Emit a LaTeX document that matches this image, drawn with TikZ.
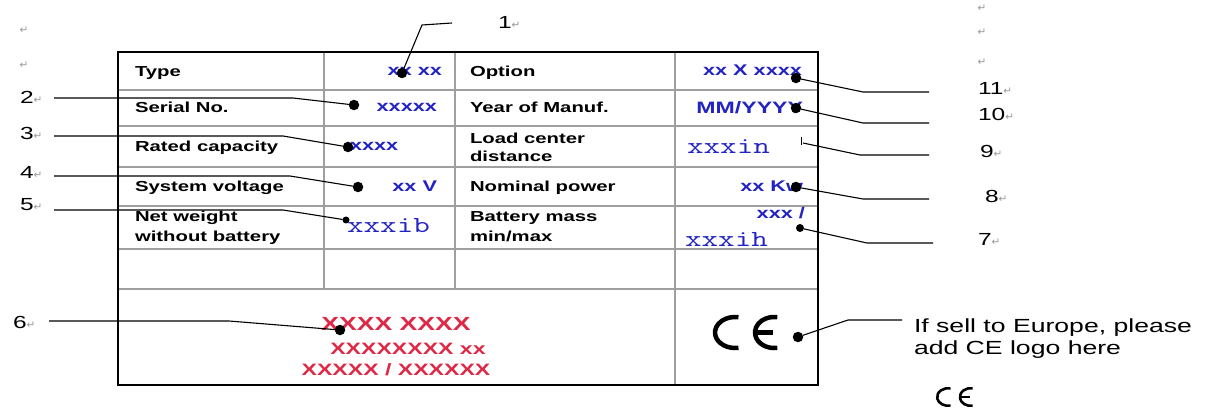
\documentclass[tikz,border=0pt]{standalone}
\usepackage{fontspec}
\setmainfont{Liberation Sans}
\newfontfamily\platefont[FakeStretch=1.4]{Liberation Sans}
\newfontfamily\platemono[FakeStretch=1.4]{Latin Modern Mono}
\newfontfamily\markfont{DejaVu Sans}
\definecolor{valblue}{RGB}{35,35,195}
\definecolor{valred}{RGB}{222,40,70}
\newcommand\pmark{{\markfont\fontsize{10.5}{10.5}\selectfont\color{gray!80}↵}}
\tikzset{cemark/.pic={
  \draw (-10.5,0) ++(80:20 and 15.5) arc[start angle=80,end angle=280,x radius=20,y radius=15.5];
  \draw (28.5,0) ++(80:19 and 15.5) arc[start angle=80,end angle=280,x radius=19,y radius=15.5];
  \draw (11.5,0) -- (27,0);
}}
\begin{document}
\begin{tikzpicture}[x=1pt,y=-1pt,
  every node/.style={inner sep=0pt,outer sep=0pt},
  platelbl/.style={font=\platefont\bfseries\fontsize{14.5}{17}\selectfont,anchor=base west},
  plateval/.style={font=\platefont\bfseries\fontsize{15.5}{18}\selectfont,text=valblue},
  monoval/.style={font=\platemono\fontsize{23}{26}\selectfont,text=valblue,anchor=base west},
  redval/.style={font=\platefont\bfseries\fontsize{16.5}{20}\selectfont,text=valred,anchor=base},
  numlbl/.style={font=\platefont\fontsize{17.5}{20}\selectfont,anchor=west},
  cetext/.style={font=\platefont\fontsize{19}{23}\selectfont,anchor=base west},
  leader/.style={line width=1.1pt},
  pindot/.style={circle,fill=black,minimum size=10.5pt},
  cellrule/.style={gray!75,line width=1.1pt}]
\path[fill=white,use as bounding box] (0,0) rectangle (1208,414);
% table grid
\foreach \y in {90,126,167,206,249,289}
  \draw[cellrule] (118,\y) -- (818,\y);
\foreach \x in {324,455}
  \draw[cellrule] (\x,52) -- (\x,289);
\draw[cellrule] (675,52) -- (675,385);
\draw[line width=2.5pt] (118,52) rectangle (818,385);
% field names
\node[platelbl] (type) at (135,77) {Type};
\node[platelbl] (serial) at (135,113) {Serial No.};
\node[platelbl] (rated) at (135,152) {Rated capacity};
\node[platelbl] (volt) at (135,192) {System voltage};
\node[platelbl] (net1) at (135,222) {Net weight};
\node[platelbl] (net2) at (135,242) {without battery};
\node[platelbl] (option) at (470,77) {Option};
\node[platelbl] (year) at (470,113) {Year of Manuf.};
\node[platelbl] (load1) at (470,144) {Load center};
\node[platelbl] (load2) at (470,162) {distance};
\node[platelbl] (power) at (470,192) {Nominal power};
\node[platelbl] (batt1) at (470,222) {Battery mass};
\node[platelbl] (batt2) at (470,242) {min/max};
% values
\node[plateval,anchor=base east] (vtype) at (442,76) {xx xx};
\node[plateval,anchor=base east] (vserial) at (437,112) {xxxxx};
\node[plateval,anchor=base west] (vrated) at (350,151) {xxxx};
\node[plateval,anchor=base east] (vvolt) at (437,191.5) {xx V};
\node[monoval] (vnet) at (347,233) {xxxib};
\node[plateval,anchor=base east] (voption) at (802,76) {xx X xxxx};
\node[plateval,anchor=base east,font=\platefont\bfseries\fontsize{16.5}{19}\selectfont] (vyear) at (803,114) {MM/YYYY};
\node[monoval] (vload) at (687,154) {xxxin};
\node[plateval,anchor=base east] (vpower) at (803,192) {xx Kw};
\node[plateval,anchor=base east] (vbatt1) at (805,219) {xxx /};
\node[monoval] (vbatt2) at (685,247) {xxxih};
\node[redval,font=\platefont\bfseries\fontsize{19}{22}\selectfont] (red1) at (396,330) {XXXX XXXX};
\node[redval] (red2) at (408,354) {XXXXXXXX xx};
\node[redval] (red3) at (396,375) {XXXXX / XXXXXX};
\pic[line width=4.5pt] at (745.5,332.5) {cemark};
\pic[scale=0.57,line width=2.6pt] at (954.5,397) {cemark};
% pins
\node[pindot] (d1) at (402,73) {};
\node[pindot] (d2) at (354,105) {};
\node[pindot] (d3) at (348,147) {};
\node[pindot] (d4) at (358,187) {};
\node[pindot,minimum size=7pt] (d5) at (346,220) {};
\node[pindot] (d6) at (340,330) {};
\node[pindot] (d11) at (796,78) {};
\node[pindot] (d10) at (796,108) {};
\coordinate (d9) at (803,143);
\draw[line width=0.8pt] (801,137) -- (801,145);
\node[pindot] (d8) at (796,187) {};
\node[pindot,minimum size=8pt] (d7) at (800,228) {};
\node[pindot] (dce) at (798,337) {};
% numbers
\node[numlbl] (n1) at (498,22) {1\pmark};
\node[numlbl] (n2) at (20,97) {2\pmark};
\node[numlbl] (n3) at (20,133) {3\pmark};
\node[numlbl] (n4) at (20,172) {4\pmark};
\node[numlbl] (n5) at (20,205) {5\pmark};
\node[numlbl] (n6) at (13,322) {6\pmark};
\node[numlbl] (n11) at (978,88) {11\pmark};
\node[numlbl] (n10) at (978,114) {10\pmark};
\node[numlbl] (n9) at (980,151) {9\pmark};
\node[numlbl] (n8) at (985,196) {8\pmark};
\node[numlbl] (n7) at (978,239) {7\pmark};
\node[cetext] (ce1) at (914,332) {If sell to Europe, please};
\node[cetext] (ce2) at (914,354) {add CE logo here};
% stray paragraph marks
\node (pm1) at (24,30) {\pmark};
\node (pm2) at (24,65) {\pmark};
\node (pm3) at (982,8) {\pmark};
\node (pm4) at (982,32) {\pmark};
\node (pm5) at (982,62) {\pmark};
% leaders
\draw[leader] ([shift={(-46,1)}]n1.west) -- ++(-30,2) -- (d1);
\draw[leader] ([shift={(34,1)}]n2.west) -- ++(239,0) -- (d2);
\draw[leader] ([shift={(34,3)}]n3.west) -- ++(229,0) -- (d3);
\draw[leader] ([shift={(34,4)}]n4.west) -- ++(236,0) -- (d4);
\draw[leader] ([shift={(34,5)}]n5.west) -- ++(229,0) -- (d5);
\draw[leader] ([shift={(36,-1)}]n6.west) -- ++(180,0) -- (d6);
\draw[leader] ([shift={(-49,4)}]n11.west) -- ++(-66,0) -- (d11);
\draw[leader] ([shift={(-49,9)}]n10.west) -- ++(-66,0) -- (d10);
\draw[leader] ([shift={(-51,4)}]n9.west) -- ++(-69,0) -- (d9);
\draw[leader] ([shift={(-56,3)}]n8.west) -- ++(-66,0) -- (d8);
\draw[leader] ([shift={(-45,4)}]n7.west) -- ++(-66,0) -- (d7);
\draw[leader] ([shift={(-12,-12)}]ce1.base west) -- ++(-54,0) -- (dce);
\end{tikzpicture}
\end{document}
